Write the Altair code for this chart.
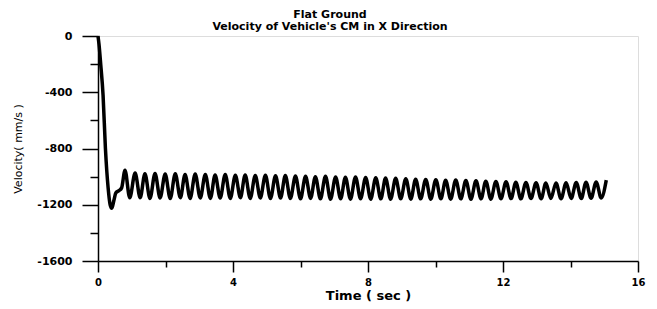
import altair as alt
import pandas as pd

time_s = [
    0.00, 0.03, 0.08, 0.15, 0.22, 0.30, 0.36, 0.41, 0.47, 0.53, 0.62, 0.70,
    0.80, 0.94, 1.10, 1.25, 1.39, 1.54, 1.69, 1.84, 1.99, 2.14, 2.29, 2.44,
    2.58, 2.73, 2.88, 3.03, 3.18, 3.33, 3.47, 3.62, 3.77, 3.92, 4.07, 4.22,
    4.36, 4.51, 4.66, 4.81, 4.96, 5.11, 5.26, 5.41, 5.55, 5.70, 5.85, 6.00,
    6.15, 6.30, 6.44, 6.59, 6.74, 6.89, 7.04, 7.19, 7.33, 7.48, 7.63, 7.78,
    7.93, 8.08, 8.23, 8.38, 8.52, 8.67, 8.82, 8.97, 9.12, 9.27, 9.41, 9.56,
    9.71, 9.86, 10.01, 10.16, 10.30, 10.45, 10.60, 10.75, 10.90, 11.05, 11.20, 11.35,
    11.49, 11.64, 11.79, 11.94, 12.09, 12.24, 12.38, 12.53, 12.68, 12.83, 12.98, 13.13,
    13.27, 13.42, 13.57, 13.72, 13.87, 14.02, 14.17, 14.32, 14.46, 14.61, 14.76, 14.91,
    15.06,
]

velocity_mm_s = [
    0, -60, -200, -420, -800, -1080, -1200, -1225, -1170, -1115, -1100, -1080,
    -955, -1150, -975, -1150, -980, -1155, -978, -1152, -982, -1155, -980, -1150,
    -985, -1155, -982, -1152, -985, -1155, -988, -1152, -985, -1155, -990, -1150,
    -988, -1155, -992, -1152, -990, -1156, -994, -1152, -992, -1155, -996, -1158,
    -998, -1155, -1000, -1158, -998, -1160, -1002, -1158, -1004, -1160, -1002, -1158,
    -1006, -1160, -1008, -1158, -1010, -1160, -1012, -1158, -1015, -1160, -1018, -1158,
    -1020, -1160, -1022, -1158, -1025, -1160, -1024, -1158, -1028, -1160, -1030, -1158,
    -1032, -1160, -1034, -1158, -1036, -1156, -1040, -1158, -1042, -1156, -1044, -1158,
    -1046, -1155, -1045, -1158, -1044, -1155, -1042, -1156, -1040, -1154, -1038, -1152,
    -1025,
]

x_major = [0, 4, 8, 12, 16]
x_minor = [2, 6, 10, 14]
y_major = [0, -400, -800, -1200, -1600]
y_minor = [-200, -600, -1000, -1400]

df = pd.DataFrame({"t": time_s, "v": velocity_mm_s})

FONT = "DejaVu Sans"

x_scale = alt.Scale(domain=[0, 16], nice=False, zero=False)
y_scale = alt.Scale(domain=[-1600, 0], nice=False, zero=False)

main = alt.Chart(df).mark_line(
    color="black", strokeWidth=3.5, interpolate="monotone"
).encode(
    x=alt.X("t:Q", scale=x_scale,
            axis=alt.Axis(values=x_major, title="Time ( sec )", grid=False,
                          orient="bottom", tickSize=11, tickWidth=1.5, format="d",
                          domainWidth=1.5, domainColor="black", tickColor="black",
                          labelFont=FONT, labelFontSize=10, labelFontWeight="bold",
                          labelColor="black", labelPadding=5, labelFlush=False,
                          titleFont=FONT, titleFontSize=13, titleFontWeight="bold",
                          titleColor="black", titleBaseline="alphabetic", titleY=38)),
    y=alt.Y("v:Q", scale=y_scale,
            axis=alt.Axis(values=y_major, title="Velocity( mm/s )", grid=False,
                          orient="left", tickSize=16, tickWidth=1.5, format="d",
                          domainWidth=1.5, domainColor="black", tickColor="black",
                          labelFont=FONT, labelFontSize=11, labelFontWeight="bold",
                          labelColor="black", labelPadding=10, labelFlush=False,
                          labelExpr="replace(datum.label, '\u2212', '-')",
                          titleFont=FONT, titleFontSize=11, titleFontWeight="normal",
                          titleColor="black", titleX=-80, titleBaseline="middle")),
)

minor = alt.Chart(df).mark_line(opacity=0).encode(
    x=alt.X("t:Q", scale=x_scale,
            axis=alt.Axis(values=x_minor, title=None, grid=False, orient="bottom",
                          labels=False, domain=False, tickSize=6, tickWidth=1.5,
                          tickColor="black")),
    y=alt.Y("v:Q", scale=y_scale,
            axis=alt.Axis(values=y_minor, title=None, grid=False, orient="left",
                          labels=False, domain=False, tickSize=8, tickWidth=1.5,
                          tickColor="black")),
)

chart = alt.layer(main, minor).resolve_axis(
    x="independent", y="independent"
).properties(
    width=540,
    height=225,
    autosize=alt.AutoSizeParams(type="none"),
    padding={"left": 90, "top": 28, "right": 11, "bottom": 43},
    title=alt.TitleParams(
        text=["Flat Ground", "Velocity of Vehicle's CM in X Direction"],
        font=FONT, fontSize=11, fontWeight="bold", color="black",
        anchor="middle", frame="group", dx=-38, offset=-3, lineHeight=12,
    ),
).configure_view(
    stroke="black", strokeWidth=1.5
).configure(background="white")

chart.save("out.html", embed_options={"renderer": "svg", "actions": False})
